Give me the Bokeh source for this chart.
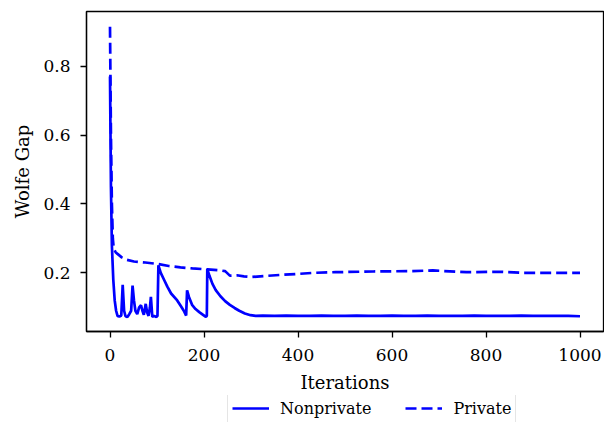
from bokeh.plotting import figure
from bokeh.layouts import column
from bokeh.models import Range1d, FixedTicker, Legend, LegendItem, PrintfTickFormatter
from bokeh.embed import file_html
from bokeh.resources import INLINE

# Nonprivate (solid) series
np_iter = [0, 2, 4, 7, 10, 13, 16, 20, 24, 27, 30, 33, 37, 41, 45, 48, 51, 54, 58, 62, 66, 69, 72,
           76, 79, 82, 85, 87, 90, 94, 99, 101, 103, 108, 115, 122, 130, 143, 150, 157, 162,
           164, 168, 175, 182, 190, 198, 204, 206, 207, 212, 218, 225, 235, 245, 255, 265, 275,
           287, 299, 310, 325, 350, 375, 400, 425, 450, 475, 500, 525, 550, 575, 600, 625, 650,
           675, 700, 725, 750, 775, 800, 825, 850, 875, 900, 925, 950, 975, 1000]
np_gap = [0.77, 0.45, 0.28, 0.18, 0.12, 0.09, 0.075, 0.073, 0.076, 0.165, 0.09, 0.074, 0.072, 0.08,
          0.09, 0.163, 0.12, 0.09, 0.08, 0.10, 0.106, 0.09, 0.078, 0.11, 0.085, 0.075, 0.10, 0.13,
          0.072, 0.075, 0.072, 0.075, 0.222, 0.20, 0.18, 0.16, 0.14, 0.12, 0.105, 0.09, 0.076,
          0.149, 0.13, 0.106, 0.095, 0.086, 0.078, 0.072, 0.075, 0.211, 0.19, 0.168, 0.15, 0.132,
          0.118, 0.107, 0.098, 0.09, 0.082, 0.077, 0.075, 0.076, 0.075, 0.076, 0.075, 0.075, 0.076,
          0.075, 0.075, 0.076, 0.075, 0.075, 0.076, 0.075, 0.075, 0.076, 0.075, 0.075, 0.075,
          0.076, 0.075, 0.075, 0.075, 0.076, 0.075, 0.075, 0.075, 0.075, 0.074]

# Private (dashed) series
pr_iter = [0, 2, 4, 6, 8, 12, 16, 25, 35, 51, 75, 101, 125, 150, 175, 207, 235, 245, 255, 270,
           285, 301, 330, 362, 400, 433, 480, 560, 638, 687, 758, 835, 877, 940, 991, 1000]
pr_gap = [0.915, 0.60, 0.40, 0.30, 0.27, 0.26, 0.255, 0.245, 0.238, 0.233, 0.23, 0.226, 0.22,
          0.216, 0.213, 0.21, 0.207, 0.205, 0.192, 0.193, 0.19, 0.188, 0.191, 0.194, 0.197, 0.20,
          0.202, 0.204, 0.205, 0.207, 0.202, 0.203, 0.20, 0.20, 0.20, 0.20]

series_names = ["Nonprivate", "Private"]
x_ticks = [0, 200, 400, 600, 800, 1000]
y_ticks = [0.2, 0.4, 0.6, 0.8]

FONT = "DejaVu Serif"
BLUE = "#0000ff"
DASH = "11 5"

p = figure(width=604, height=395, output_backend="svg", toolbar_location=None,
           x_range=Range1d(-50, 1050), y_range=Range1d(0.0297, 0.959),
           min_border_left=86, min_border_right=1, min_border_top=11, min_border_bottom=62)
p.background_fill_color = "white"
p.border_fill_color = "white"
p.outline_line_color = "black"
p.outline_line_width = 1.3
p.grid.visible = False

p.line(np_iter, np_gap, line_color=BLUE, line_width=2.7)
p.line(pr_iter, pr_gap, line_color=BLUE, line_width=2.7, line_dash=DASH)

for ax in (p.xaxis[0], p.yaxis[0]):
    ax.axis_line_color = "black"
    ax.axis_line_width = 1.3
    ax.major_tick_line_color = "black"
    ax.major_tick_line_width = 1.3
    ax.major_tick_out = 6
    ax.major_tick_in = 0
    ax.minor_tick_line_color = None
    ax.major_label_text_font = FONT
    ax.major_label_text_font_size = "17px"
    ax.major_label_text_color = "black"
    ax.axis_label_text_font = FONT
    ax.axis_label_text_font_size = "18px"
    ax.axis_label_text_font_style = "normal"
    ax.axis_label_text_color = "black"

p.xaxis.ticker = FixedTicker(ticks=x_ticks)
p.yaxis.ticker = FixedTicker(ticks=y_ticks)
p.yaxis.formatter = PrintfTickFormatter(format="%.1f")
p.xaxis.axis_label = "Iterations"
p.yaxis.axis_label = "Wolfe Gap"
p.xaxis.major_label_standoff = 11
p.xaxis.axis_label_standoff = 8
p.yaxis.major_label_standoff = 10
p.yaxis.axis_label_standoff = 7

# legend strip below the plot (its lines lie outside its visible y range)
lg = figure(width=604, height=27, output_backend="svg", toolbar_location=None,
            x_range=Range1d(-50, 1050), y_range=Range1d(5, 6),
            min_border_left=0, min_border_right=0, min_border_top=0, min_border_bottom=0)
lg.axis.visible = False
lg.grid.visible = False
lg.outline_line_color = None
lg.background_fill_color = "white"
lg.border_fill_color = "white"
s1 = lg.line(np_iter, np_gap, line_color=BLUE, line_width=2.7)
s2 = lg.line(pr_iter, pr_gap, line_color=BLUE, line_width=2.7, line_dash=DASH)

legend = Legend(items=[LegendItem(label=series_names[0], renderers=[s1]),
                       LegendItem(label=series_names[1], renderers=[s2])],
                location=(141, -1), orientation="horizontal")
legend.label_text_font = FONT
legend.label_text_font_size = "16px"
legend.label_text_color = "black"
legend.glyph_width = 37
legend.glyph_height = 20
legend.label_standoff = 11
legend.spacing = 34
legend.padding = 4
legend.margin = 0
legend.border_line_color = "#cccccc"
legend.border_line_width = 1.5
legend.background_fill_color = "white"
legend.background_fill_alpha = 1.0
lg.add_layout(legend)

open("out.html", "w").write(file_html(column(p, lg, spacing=0), INLINE))
